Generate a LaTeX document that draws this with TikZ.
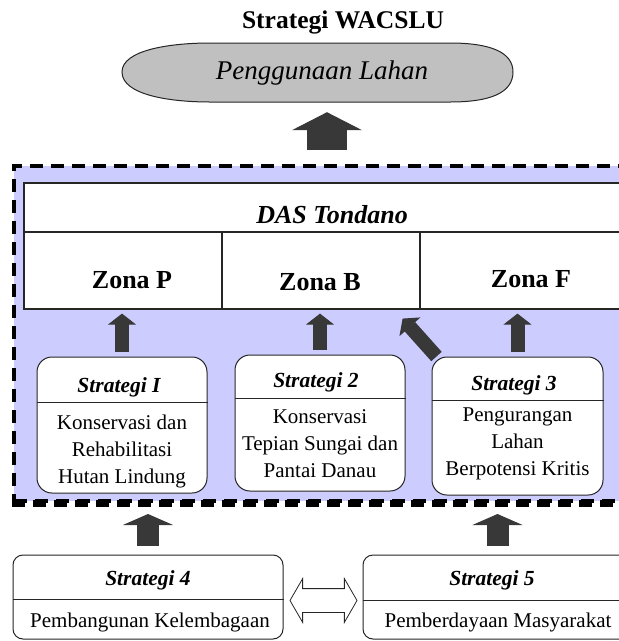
\documentclass[tikz,border=0pt]{standalone}
\usepackage{fontspec}
\setmainfont{Liberation Serif}
\usetikzlibrary{arrows.meta,shapes.arrows}

\definecolor{regionblue}{HTML}{CCCCFF}
\definecolor{lahangray}{HTML}{C0C0C0}
\definecolor{arrowgray}{HTML}{383838}

\tikzset{
  cell/.style={draw=black!85, line width=1.2pt, fill=white, inner sep=0pt},
  zona/.style={font=\fontsize{26}{30}\selectfont\bfseries, anchor=base, inner sep=0pt},
  sbox/.style={draw=black!85, line width=1pt, fill=white, rounded corners=15pt, inner sep=0pt},
  shead/.style={font=\fontsize{21.5}{24}\selectfont\bfseries\itshape, anchor=base, inner sep=0pt},
  sbody/.style={font=\fontsize{21}{27}\selectfont, align=center, inner sep=0pt},
  blk/.style={draw=arrowgray, line width=#1},
  midblk/.style={blk=14pt, -{Triangle[length=11pt,width=28pt,line width=1pt]}},
  lowblk/.style={blk=22pt, -{Triangle[length=11pt,width=50pt,line width=1pt]}},
  topblk/.style={blk=40pt, -{Triangle[length=18pt,width=70pt,line width=1pt]}}
}

\begin{document}
\begin{tikzpicture}[x=1pt,y=-1pt]
  \useasboundingbox (0,0) rectangle (619,641);
  \clip (0,0) rectangle (619,641);

  \node[font=\fontsize{25.5}{28}\selectfont\bfseries, anchor=base, inner sep=0pt] (title) at (343,28) {Strategi WACSLU};

  \draw[fill=lahangray, draw=black!85, line width=1pt]
    (122,72) .. controls (122,50) and (170,43) .. (210,43) -- (450,43)
    .. controls (490,43) and (513,52) .. (513,72)
    .. controls (513,93) and (490,102) .. (450,102) -- (210,102)
    .. controls (170,102) and (122,95) .. (122,72) -- cycle;
  \node[minimum width=391pt, minimum height=59pt, inner sep=0pt] (lahan) at (317.5,72.5) {};
  \node[font=\fontsize{27}{30}\selectfont\itshape, anchor=base, inner sep=0pt] (lahantxt) at (322,79) {Penggunaan Lahan};

  % DAS region
  \node[draw, fill=regionblue, line width=4pt, dash pattern=on 13pt off 8pt,
        minimum width=666pt, minimum height=335pt, inner sep=0pt] (dasreg) at (347,333.5) {};
  \draw[line width=7pt, dash pattern=on 13pt off 8pt] (dasreg.south west) -- (dasreg.south east);

  \node[cell, minimum width=618pt, minimum height=49pt] (das) at (333,207.5) {};
  \node[cell, minimum width=198pt, minimum height=77pt] (zp) at (123,270.5) {};
  \node[cell, minimum width=198pt, minimum height=77pt] (zb) at (321,270.5) {};
  \node[cell, minimum width=222pt, minimum height=77pt] (zf) at (531,270.5) {};
  \node[font=\fontsize{26}{30}\selectfont\bfseries\itshape, anchor=base, inner sep=0pt] (dastxt) at (332,223) {DAS Tondano};
  \node[zona] (zptxt) at (132,288) {Zona P};
  \node[zona] (zbtxt) at (320,290) {Zona B};
  \node[zona] (zftxt) at (531,287) {Zona F};

  % strategi 1-3
  \node[sbox, minimum width=170pt, minimum height=136pt] (s1) at (122,425) {};
  \node[sbox, minimum width=170pt, minimum height=136pt] (s2) at (320,423) {};
  \node[sbox, minimum width=171pt, minimum height=138pt] (s3) at (517.5,426) {};
  \draw[black!85, line width=1pt] (s1.west |- 0,402) -- (s1.east |- 0,402);
  \draw[black!85, line width=1pt] (s2.west |- 0,398) -- (s2.east |- 0,398);
  \draw[black!85, line width=1pt] (s3.west |- 0,400) -- (s3.east |- 0,400);
  \node[shead] (s1h) at (119,392) {Strategi I};
  \node[shead] (s2h) at (316,387) {Strategi 2};
  \node[shead] (s3h) at (514,390) {Strategi 3};
  \node[sbody] (s1b) at (122,451) {Konservasi dan\\Rehabilitasi\\Hutan Lindung};
  \node[sbody] (s2b) at (320,444) {Konservasi\\Tepian Sungai dan\\Pantai Danau};
  \node[sbody] (s3b) at (517.5,444) {Pengurangan\\Lahan\\Berpotensi Kritis};

  % strategi 4 dan 5
  \node[sbox, rounded corners=10pt, minimum width=270pt, minimum height=84pt] (s4) at (148,597) {};
  \node[sbox, rounded corners=10pt, minimum width=269pt, minimum height=84pt] (s5) at (497.5,597) {};
  \draw[black!85, line width=1pt] (s4.west |- 0,599) -- (s4.east |- 0,599);
  \draw[black!85, line width=1pt] (s5.west |- 0,600) -- (s5.east |- 0,600);
  \node[shead] (s4h) at (148,585) {Strategi 4};
  \node[shead] (s5h) at (492,585) {Strategi 5};
  \node[sbody, anchor=base] (s4b) at (150,627) {Pembangunan Kelembagaan};
  \node[sbody, anchor=base] (s5b) at (498,627) {Pemberdayaan Masyarakat};
  \node[double arrow, draw=black!85, fill=white, line width=0.8pt, minimum height=67pt,
        inner xsep=0pt, inner ysep=11.5pt, double arrow head extend=10pt,
        double arrow tip angle=120] (swap) at (323.5,600.5) {};

  % arrows
  \coordinate (up) at (327,150);
  \draw[topblk, shorten >=10pt] (up) -- (up |- lahan.south);
  \draw[midblk, shorten <=5pt, shorten >=4pt] (s1.north) -- (s1.north |- zp.south);
  \draw[midblk, shorten <=5pt, shorten >=4pt] (s2.north) -- (s2.north |- zb.south);
  \draw[midblk, shorten <=5pt, shorten >=4pt] (s3.north) -- (s3.north |- zf.south);
  \draw[midblk] ([xshift=5pt]s3.north west) -- ([xshift=-18pt,yshift=-9pt]zb.south east);
  \draw[lowblk, shorten <=9pt, shorten >=11pt] (s4.north) -- (s4.north |- dasreg.south);
  \draw[lowblk, shorten <=9pt, shorten >=11pt] (s5.north) -- (s5.north |- dasreg.south);
\end{tikzpicture}
\end{document}
